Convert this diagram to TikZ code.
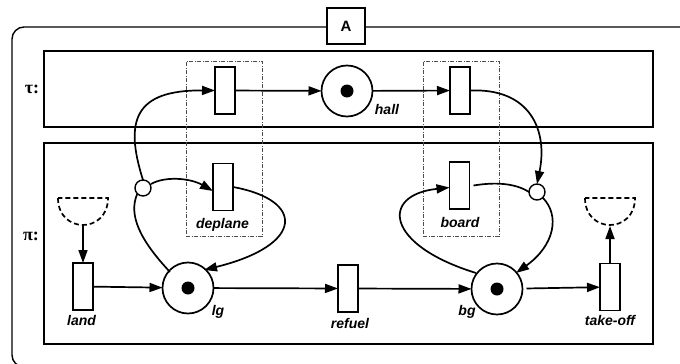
\documentclass[tikz,border=0pt]{standalone}
\usepackage{fontspec}
\setsansfont{Liberation Sans}
\newfontfamily\greekfont{Liberation Serif}
\usetikzlibrary{arrows.meta}
\begin{document}
\begin{tikzpicture}[x=1pt,y=-1pt,
  every node/.style={inner sep=0pt,outer sep=0pt},
  tip/.tip={Triangle[length=13pt,width=9pt]},
  arc/.style={line width=1.7pt,-tip},
  link/.style={line width=1.7pt},
  place/.style={circle,draw,line width=1.7pt,minimum size=51pt},
  token/.style={circle,fill,minimum size=13pt},
  trans/.style={rectangle,draw,line width=1.8pt,minimum width=20pt,minimum height=47pt},
  probe/.style={circle,draw,line width=1.4pt,minimum size=16pt},
  frame/.style={draw,line width=1.4pt},
  group/.style={draw=black!70,line width=0.8pt,dash pattern=on 4pt off 1.5pt on 1pt off 1.5pt},
  lbl/.style={font=\sffamily\bfseries\itshape\fontsize{14}{15}\selectfont,anchor=base},
  greek/.style={font=\greekfont\bfseries\fontsize{18}{19}\selectfont,anchor=base},
  open/.style={dash pattern=on 5pt off 3pt,line width=1.7pt}]
\useasboundingbox (0,0) rectangle (680,364);
\begin{scope}
\clip (0,0) rectangle (680,364);
% outer component frame
\draw[frame,rounded corners=12pt] (700,27) -- (12,27) -- (12,367) -- (700,367);
\end{scope}
\node[frame,fill=white,minimum width=38pt,minimum height=36pt,
      font=\sffamily\bfseries\fontsize{15}{16}\selectfont] (A) at (346,26) {A};

% the two layers
\node[frame,minimum width=609pt,minimum height=76pt] (tau) at (348.5,89) {};
\node[frame,minimum width=609pt,minimum height=201pt] (pi) at (348.5,243.5) {};
\node[greek] (taulbl) at (32,93) {τ:};
\node[greek] (pilbl) at (31,240) {π:};

% synchronisation groups
\node[group,minimum width=76pt,minimum height=175pt] (gL) at (224,148.5) {};
\node[group,minimum width=76pt,minimum height=175pt] (gR) at (461,148.5) {};

% tau layer
\node[trans] (tA) at (225,90.5) {};
\node[place] (hall) at (347,91) {};
\node[token] (hallT) at (hall) {};
\node[trans] (tB) at (460,90.5) {};
\node[lbl] (hallL) at (387,114) {hall};

% pi layer
\node[trans] (deplane) at (223,187) {};
\node[trans] (board) at (459.5,185.5) {};
\node[trans] (land) at (83,286.5) {};
\node[place] (lg) at (188,288) {};
\node[token] (lgT) at (lg) {};
\node[trans] (refuel) at (348,288.5) {};
\node[place] (bg) at (497,289) {};
\node[token] (bgT) at (bg) {};
\node[trans] (takeoff) at (610,287) {};
\node[probe] (pL) at (143,188) {};
\node[probe] (pR) at (537,192) {};

\node[lbl] (deplaneL) at (222.5,228) {deplane};
\node[lbl] (boardL) at (460,227) {board};
\node[lbl] (landL) at (81.5,325) {land};
\node[lbl] (lgL) at (218,315) {lg};
\node[lbl] (refuelL) at (350,328) {refuel};
\node[lbl] (bgL) at (467,315) {bg};
\node[lbl] (takeoffL) at (610,325) {take-off};

% open environment ends
\draw[open] (58,198) .. controls (58,234) and (108,234) .. (108,198) -- cycle;
\draw[open] (585,198) .. controls (585,234) and (635,234) .. (635,198) -- cycle;
\coordinate (envL) at (83,226);
\coordinate (envR) at (610,226);

% tau arcs
\draw[arc] (tA) -- (hall);
\draw[arc] (hall) -- (tB);

% pi main line
\draw[arc] (envL) -- (land);
\draw[arc] (land) -- (lg);
\draw[arc] (lg) -- (refuel);
\draw[arc] (refuel) -- (bg);
\draw[arc,shorten <=4pt] (bg) -- (takeoff);
\draw[arc] (takeoff) -- (envR);

% left synchronisation
\draw[link] (lg.north west) ++(0,2) .. controls (140,240) and (128,215) .. (pL.south west);
\draw[arc] (pL.north) .. controls (124,120) and (135,90) .. (tA.west);
\draw[arc] (pL.east) ++(0,-4) .. controls (165,176) and (190,178) .. ([yshift=-4pt]deplane.west);
\draw[arc] (deplane.east) .. controls (305,200) and (305,245) .. ([xshift=-2pt]lg.north east);

% right synchronisation
\draw[arc] (tB.east) .. controls (530,88) and (548,130) .. (pR.north);
\draw[link] (board.east) ++(4,0) .. controls (495,182) and (515,183) .. (pR.west);
\draw[arc] (pR.south east) .. controls (560,215) and (555,245) .. ([shift={(1pt,-2pt)}]bg.north east);
\draw[arc] ([shift={(-3pt,-2pt)}]bg.north west) .. controls (385,245) and (380,195) .. ([yshift=-2pt]board.west);
\end{tikzpicture}
\end{document}
